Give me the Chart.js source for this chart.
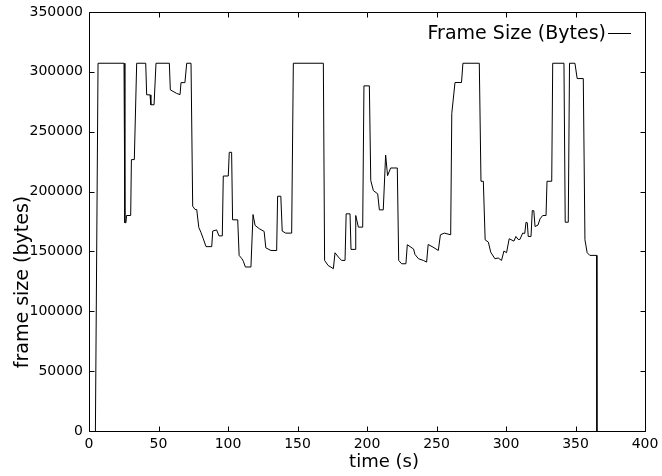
<!DOCTYPE html>
<html>
<head>
<meta charset="utf-8">
<script src="https://cdn.jsdelivr.net/npm/chart.js@4/dist/chart.umd.min.js"></script>
<style>
  html, body { margin: 0; padding: 0; background: #ffffff; }
  #wrap { width: 662px; height: 476px; position: relative; }
</style>
</head>
<body>
<div id="wrap"><canvas id="c" width="662" height="476"></canvas></div>
<script>
const seriesLabel = "Frame Size (Bytes)";
const xAxisTitle = "time (s)";
const yAxisTitle = "frame size (bytes)";
const xTicks = [0, 50, 100, 150, 200, 250, 300, 350, 400];
const yTicks = [0, 50000, 100000, 150000, 200000, 250000, 300000, 350000];

const timeSeconds = [
  4.6, 6.5, 25.2, 25.8, 26.6, 27.0, 30.0, 30.5, 32.6, 34.3,
  40.8, 41.5, 43.9, 44.5, 46.8, 48.2, 57.8, 58.5, 63.0, 65.5,
  66.2, 69.0, 70.3, 73.4, 74.6, 76.3, 77.5, 79.0, 80.5, 82.2,
  84.2, 88.3, 89.0, 91.8, 93.5, 95.9, 96.6, 100.2, 100.9, 102.6,
  103.3, 107.0, 108.0, 110.0, 111.0, 112.5, 116.5, 118.0, 119.5, 122.5,
  126.0, 127.2, 130.9, 135.0, 135.7, 138.0, 139.0, 141.5, 145.8, 147.0,
  168.6, 169.5, 172.0, 175.8, 177.0, 179.4, 181.7, 184.2, 185.0, 187.8,
  188.5, 191.4, 191.9, 193.8, 196.9, 197.8, 201.7, 202.7, 204.6, 207.7,
  208.9, 211.7, 213.4, 214.8, 217.0, 221.8, 222.8, 224.9, 228.0, 229.0,
  231.0, 233.5, 234.5, 237.0, 240.5, 242.9, 244.0, 247.5, 251.3, 252.8,
  255.7, 260.2, 261.0, 263.3, 268.0, 269.0, 280.8, 282.0, 283.7, 285.0,
  287.3, 289.0, 292.0, 294.4, 296.8, 298.5, 300.4, 302.3, 305.7, 307.1,
  308.8, 310.0, 312.0, 313.5, 314.4, 315.3, 316.0, 318.0, 318.9, 320.0,
  320.9, 323.0, 324.5, 326.4, 328.8, 329.5, 332.9, 333.6, 341.7, 342.6,
  344.8, 345.7, 349.6, 351.2, 355.6, 356.8, 358.4, 360.3, 365.2, 365.4
];
const frameSizeBytes = [
  0, 307200, 307200, 174000, 174000, 180000, 180000, 226700, 226700, 307200,
  307200, 280800, 280800, 272500, 272500, 307200, 307200, 285000, 282000, 281000,
  291000, 291000, 307200, 307200, 187800, 185000, 185000, 170000, 166000, 160600,
  154000, 154000, 167000, 168000, 163000, 163000, 213000, 213000, 232800, 232800,
  176400, 176400, 146700, 143900, 141900, 137000, 137000, 180800, 171700, 169000,
  166700, 153000, 150800, 150800, 196100, 196100, 167000, 165300, 165300, 307200,
  307200, 142500, 138300, 135600, 148900, 145300, 142500, 142500, 181400, 181400,
  151700, 151700, 180000, 170300, 170300, 288300, 288300, 209200, 200800, 198100,
  184700, 184700, 230500, 213300, 219700, 219700, 142500, 139700, 139700, 155600,
  154000, 152000, 147500, 143900, 142500, 141100, 155800, 153600, 150800, 163900,
  165300, 163900, 265300, 291100, 291100, 307200, 307200, 208600, 208600, 159700,
  157800, 149400, 143900, 144500, 142500, 150300, 149000, 160600, 158600, 162500,
  160000, 160000, 165300, 165000, 174400, 174000, 162500, 162500, 184200, 184000,
  170800, 172000, 177200, 180000, 180000, 208600, 208600, 307200, 307200, 174400,
  174400, 307200, 307200, 294400, 294400, 159700, 148900, 146700, 146700, 0
];

const points = timeSeconds.map((t, i) => ({ x: t, y: frameSizeBytes[i] }));
const FONT = "'DejaVu Sans', 'Liberation Sans', sans-serif";

const framePlugin = {
  id: 'framePlugin',
  afterDraw(chart) {
    const ctx = chart.ctx;
    const a = chart.chartArea;
    const xs = chart.scales.x, ys = chart.scales.y;
    const L = Math.round(a.left) + 0.5, R = Math.round(a.right) + 0.5;
    const T = Math.round(a.top) + 0.5, B = Math.round(a.bottom) + 0.5;
    ctx.save();
    ctx.strokeStyle = '#000';
    ctx.lineWidth = 1;
    ctx.beginPath();
    ctx.rect(L, T, R - L, B - T);
    const tl = 5;
    xTicks.forEach(v => {
      const px = Math.round(xs.getPixelForValue(v)) + 0.5;
      ctx.moveTo(px, B); ctx.lineTo(px, B - tl);
      ctx.moveTo(px, T); ctx.lineTo(px, T + tl);
    });
    yTicks.forEach(v => {
      const py = Math.round(ys.getPixelForValue(v)) + 0.5;
      ctx.moveTo(L, py); ctx.lineTo(L + tl, py);
      ctx.moveTo(R, py); ctx.lineTo(R - tl, py);
    });
    ctx.stroke();

    // axis titles
    ctx.fillStyle = '#000';
    ctx.textAlign = 'center';
    ctx.textBaseline = 'middle';
    ctx.font = "18px " + FONT;
    ctx.fillText(xAxisTitle, 384, 462);
    ctx.save();
    ctx.translate(23, 282);
    ctx.rotate(-Math.PI / 2);
    ctx.font = "19px " + FONT;
    ctx.fillText(yAxisTitle, 0, 0);
    ctx.restore();

    // legend
    ctx.font = "19px " + FONT;
    ctx.textAlign = 'right';
    ctx.textBaseline = 'middle';
    ctx.fillText(chart.data.datasets[0].label, 606, 34);
    ctx.beginPath();
    ctx.moveTo(608, 33.5);
    ctx.lineTo(631, 33.5);
    ctx.stroke();
    ctx.restore();
  }
};

new Chart(document.getElementById('c'), {
  type: 'line',
  data: {
    datasets: [{
      label: seriesLabel,
      data: points,
      borderColor: '#000000',
      borderWidth: 1,
      pointRadius: 0,
      fill: false,
      tension: 0
    }]
  },
  options: {
    responsive: false,
    animation: false,
    devicePixelRatio: 1,
    layout: { padding: { left: 0, top: 12, right: 17, bottom: 0 } },
    plugins: {
      legend: { display: false },
      tooltip: { enabled: false }
    },
    scales: {
      x: {
        type: 'linear',
        min: 0, max: 400,
        afterBuildTicks(scale) { scale.ticks = xTicks.map(v => ({ value: v })); },
        afterFit(scale) { scale.height = 45; scale.paddingLeft = 0; scale.paddingRight = 0; },
        grid: { display: false, drawTicks: false },
        border: { display: false },
        ticks: { color: '#000', font: { family: FONT, size: 14 }, padding: 5, maxRotation: 0, autoSkip: false }
      },
      y: {
        type: 'linear',
        min: 0, max: 350000,
        afterBuildTicks(scale) { scale.ticks = yTicks.map(v => ({ value: v })); },
        afterFit(scale) { scale.width = 89; scale.paddingTop = 0; scale.paddingBottom = 0; },
        grid: { display: false, drawTicks: false },
        border: { display: false },
        ticks: { color: '#000', font: { family: FONT, size: 14 }, padding: 6, autoSkip: false,
                 callback: v => String(v) }
      }
    }
  },
  plugins: [framePlugin]
});
</script>
</body>
</html>
